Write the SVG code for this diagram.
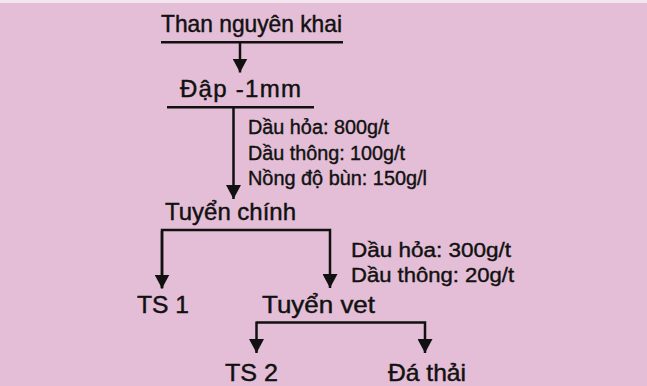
<svg xmlns="http://www.w3.org/2000/svg" width="647" height="386" viewBox="0 0 647 386">
<style>
.n{font-family:"Liberation Sans",Arial,sans-serif;font-size:24px;fill:#111;stroke:#111;stroke-width:0.45}
.a{font-family:"Liberation Sans",Arial,sans-serif;font-size:20px;fill:#111;stroke:#111;stroke-width:0.4}
.l{fill:none;stroke:#111;stroke-width:2.5}
</style>
<defs>
<marker id="ah" markerUnits="userSpaceOnUse" viewBox="0 0 14 15" refX="14" refY="7.5" markerWidth="14" markerHeight="15" orient="auto">
<path d="M0,0 L14,7.5 L0,15 Z" fill="#111"/>
</marker>
</defs>
<rect x="0" y="0" width="647" height="386" fill="#e3bed6"/>
<rect x="0" y="0" width="647" height="3" fill="#f4e6ee"/>
<g id="n-than"><text class="n" x="161" y="32" textLength="181" lengthAdjust="spacingAndGlyphs">Than nguyên khai</text></g>
<g id="n-dap"><text class="n" x="180" y="97" textLength="121" lengthAdjust="spacing">Đập -1mm</text></g>
<g id="n-chinh"><text class="n" x="165" y="219.5" textLength="131" lengthAdjust="spacingAndGlyphs">Tuyển chính</text></g>
<g id="n-ts1"><text class="n" x="137" y="313" textLength="52" lengthAdjust="spacingAndGlyphs">TS 1</text></g>
<g id="n-vet"><text class="n" x="262" y="313" textLength="113" lengthAdjust="spacingAndGlyphs">Tuyển vet</text></g>
<g id="n-ts2"><text class="n" x="225" y="381" textLength="53" lengthAdjust="spacingAndGlyphs">TS 2</text></g>
<g id="n-dathai"><text class="n" x="388" y="381" textLength="78" lengthAdjust="spacingAndGlyphs">Đá thải</text></g>
<g id="labels">
<text class="a" x="248" y="134" textLength="141" lengthAdjust="spacingAndGlyphs">Dầu hỏa: 800g/t</text>
<text class="a" x="248" y="159.5" textLength="157" lengthAdjust="spacingAndGlyphs">Dầu thông: 100g/t</text>
<text class="a" x="248" y="185" textLength="179" lengthAdjust="spacingAndGlyphs">Nồng độ bùn: 150g/l</text>
<text class="a" x="351" y="257" textLength="160" lengthAdjust="spacingAndGlyphs">Dầu hỏa: 300g/t</text>
<text class="a" x="351" y="282" textLength="163" lengthAdjust="spacingAndGlyphs">Dầu thông: 20g/t</text>
</g>
<g id="connectors">
<line class="l" x1="161" y1="42.3" x2="343" y2="42.3"/>
<line class="l" x1="240" y1="42.3" x2="240" y2="72.5" marker-end="url(#ah)"/>
<line class="l" x1="167" y1="107.3" x2="314" y2="107.3"/>
<line class="l" x1="233.5" y1="107.3" x2="233.5" y2="199" marker-end="url(#ah)"/>
<polyline class="l" points="162,288 162,230 330,230 330,288" marker-end="url(#ah)"/>
<line class="l" x1="162" y1="231" x2="162" y2="288.5" marker-end="url(#ah)"/>
<polyline class="l" points="256.5,322.5 425,322.5 425,353" marker-end="url(#ah)"/>
<line class="l" x1="256.5" y1="321.5" x2="256.5" y2="353" marker-end="url(#ah)"/>
</g>
</svg>
